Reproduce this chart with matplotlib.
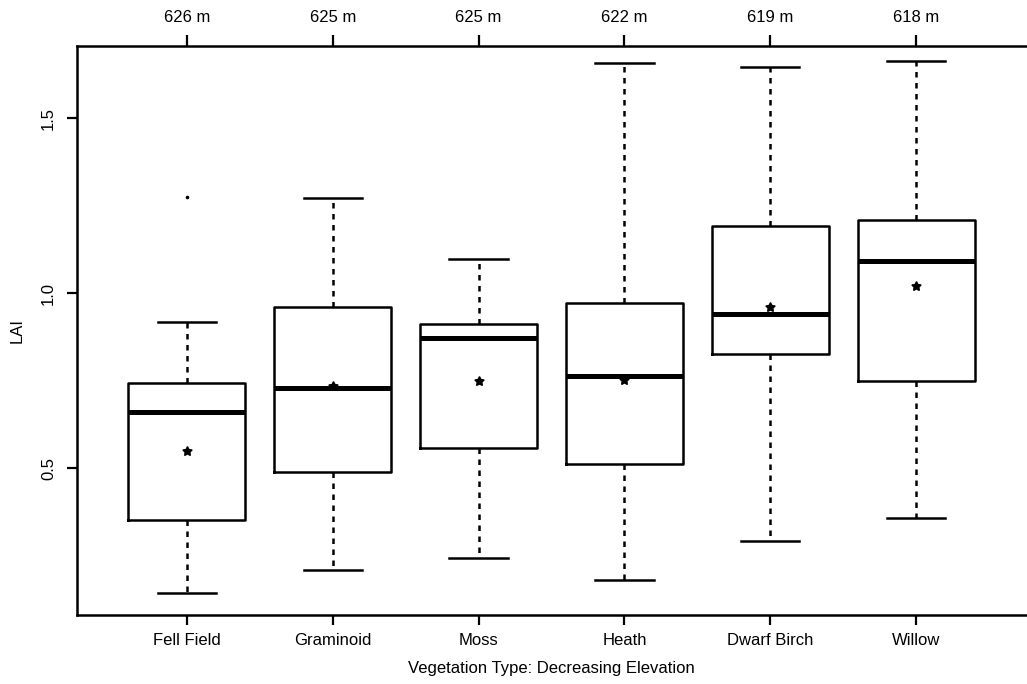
import matplotlib
matplotlib.use("Agg")
import matplotlib.pyplot as plt

plt.rcParams['font.family'] = ['Liberation Sans', 'DejaVu Sans']

# Vegetation types ordered by decreasing elevation
categories = ["Fell Field", "Graminoid", "Moss", "Heath", "Dwarf Birch", "Willow"]
elevations = ["626 m", "625 m", "625 m", "622 m", "619 m", "618 m"]

# Box-plot summaries of leaf area index (LAI)
whisker_low = [0.142, 0.209, 0.244, 0.180, 0.292, 0.356]
q1 = [0.351, 0.489, 0.556, 0.511, 0.826, 0.749]
median = [0.661, 0.728, 0.871, 0.764, 0.939, 1.092]
q3 = [0.743, 0.961, 0.913, 0.971, 1.191, 1.209]
whisker_high = [0.917, 1.271, 1.097, 1.658, 1.647, 1.663]
mean = [0.549, 0.735, 0.749, 0.751, 0.961, 1.021]
outliers = [[1.275], [], [], [], [], []]

stats = []
for i, name in enumerate(categories):
    stats.append(dict(label=name, whislo=whisker_low[i], q1=q1[i], med=median[i],
                      q3=q3[i], whishi=whisker_high[i], mean=mean[i],
                      fliers=outliers[i]))

FS = 12

fig = plt.figure(figsize=(10.27, 6.84), dpi=100)
ax = fig.add_axes([77 / 1027, 69 / 684, 949 / 1027, 569 / 684])

positions = list(range(1, len(categories) + 1))
ax.bxp(stats, positions=positions, widths=0.8, showmeans=True, showfliers=True,
       boxprops=dict(color="black", linewidth=1.8),
       medianprops=dict(color="black", linewidth=3.6, solid_capstyle="butt"),
       whiskerprops=dict(color="black", linewidth=1.8, linestyle=(0, (2.2, 2.2))),
       capprops=dict(color="black", linewidth=1.8),
       capwidths=0.4,
       meanprops=dict(marker=(5, 1, 0), markerfacecolor="black",
                      markeredgecolor="black", markersize=7),
       flierprops=dict(marker="o", markersize=1.6, markerfacecolor="black",
                       markeredgecolor="black"))

ax.set_xlim(0.247, 6.753)
ax.set_ylim(0.08, 1.706)

ax.set_yticks([0.5, 1.0, 1.5])
ax.set_yticklabels(["0.5", "1.0", "1.5"], rotation=90, va="center")
ax.set_xticks(positions)
ax.set_xticklabels(categories)

for side in ("left", "top", "bottom"):
    ax.spines[side].set_linewidth(1.8)
ax.spines["right"].set_visible(False)

ax.tick_params(axis="both", direction="out", length=7, width=1.6, labelsize=FS,
               colors="black")
ax.tick_params(axis="x", pad=6)
ax.tick_params(axis="y", pad=8)

top = ax.secondary_xaxis("top")
top.set_xticks(positions)
top.set_xticklabels(elevations)
top.tick_params(direction="out", length=8, width=1.6, labelsize=FS, pad=7)
top.spines["top"].set_visible(False)

ax.set_ylabel("LAI", fontsize=FS, labelpad=12)
ax.set_xlabel("Vegetation Type: Decreasing Elevation", fontsize=FS, labelpad=9)

fig.savefig("out.png", dpi=100)
